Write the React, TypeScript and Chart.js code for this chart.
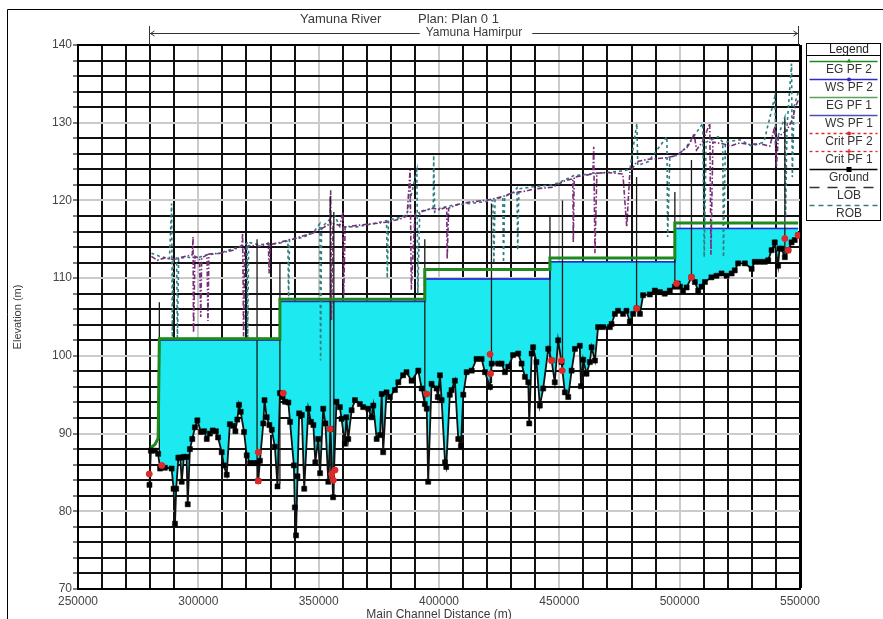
import React, { useEffect, useRef } from 'react';
import { Chart, registerables } from 'chart.js';

Chart.register(...registerables);

const W = 883;
const H = 619;
const FONT = '"Liberation Sans", Arial, sans-serif';

// ---- texts ----
const titleRiver = 'Yamuna River';
const titlePlan = 'Plan: Plan 0 1';
const reachName = 'Yamuna Hamirpur';
const xTitle = 'Main Channel Distance (m)';
const yTitle = 'Elevation (m)';
const legendTitle = 'Legend';
const seriesNames = ['EG PF 2', 'WS PF 2', 'EG PF 1', 'WS PF 1', 'Crit PF 2', 'Crit PF 1', 'Ground', 'LOB', 'ROB'];

// ---- axes ----
const xMin = 250000, xMax = 550000, xStep = 10000, xLabelEvery = 50000;
const yMin = 70, yMax = 140, yStep = 2, yLabelEvery = 10;

// ---- ground (min channel elevation) ----
const groundStation = [
  279700, 280300, 282000, 283300, 284100, 286100, 288900, 289700, 290300, 290800,
  291700, 292500, 293100, 294000, 295100, 295600, 296500, 297500, 298600, 299600,
  301100, 302400, 303500, 304800, 306000, 307300, 308200, 309700, 310600, 311800,
  313100, 314500, 315400, 316200, 316900, 317600, 319000, 320100, 321500, 323000,
  324600, 324900, 325600, 327000, 327500, 328400, 329500, 330500, 331800, 332900,
  333900, 335000, 336000, 337400, 338100, 339700, 340100, 340600, 341200, 341900,
  343000, 344000, 345700, 346800, 347800, 348600, 349800, 350600, 351900, 352800,
  354000, 354900, 356000, 357400, 358800, 359500, 360900, 361500, 362300, 363700,
  365100, 367100, 368500, 370600, 372000, 372700, 374100, 375500, 376200, 376800,
  378200, 379600, 381700, 383100, 385100, 386500, 388600, 391400, 392800, 394100,
  394900, 395500, 396900, 399000, 399500, 400400, 401100, 402500, 403000, 404500,
  405200, 406600, 408000, 409100, 410100, 411500, 413600, 415600, 417700, 419100,
  421200, 421900, 424600, 426000, 427400, 428800, 430800, 432900, 434300, 435700,
  437100, 437500, 438500, 439100, 440500, 441900, 443300, 445400, 446800, 448100,
  449500, 450900, 452300, 453700, 455100, 456500, 458500, 459000, 459900, 461300,
  462700, 463400, 464800, 466100, 468200, 471000, 471700, 473100, 474400, 476500,
  477900, 479300, 480700, 482100, 483500, 484800, 487600, 489700, 491800, 493800,
  495900, 498000, 499200, 500100, 501400, 502900, 504900, 506300, 507700, 509100,
  510500, 513200, 515300, 517400, 519500, 521600, 522900, 524300, 527100, 529900,
  531200, 533300, 535400, 536800, 538200, 539500, 540900, 541500, 542300, 543700,
  545100, 546500, 547800, 549200,
];
const groundElev = [
  83.4, 87.8, 87.8, 87.4, 85.5, 85.6, 85.5, 82.9, 78.4, 82.9,
  86.9, 86.9, 83.8, 87.0, 87.0, 80.9, 88.0, 89.3, 90.8, 91.7,
  90.2, 90.3, 89.3, 90.0, 90.4, 90.3, 89.5, 87.6, 85.9, 84.7,
  91.2, 91.0, 90.3, 91.8, 93.7, 92.8, 90.2, 87.2, 86.2, 86.2,
  86.2, 83.9, 86.5, 91.3, 94.3, 92.1, 91.1, 90.5, 88.3, 83.2,
  95.2, 94.7, 94.1, 94.0, 91.5, 85.9, 80.5, 76.9, 84.5, 92.6,
  92.4, 82.9, 93.2, 91.5, 91.1, 86.3, 89.3, 84.9, 93.2, 91.3,
  83.8, 90.6, 81.8, 94.1, 93.4, 91.9, 88.7, 92.1, 89.3, 93.0,
  94.3, 93.8, 93.4, 93.2, 92.1, 93.6, 89.3, 89.8, 95.1, 87.6,
  95.3, 94.7, 95.6, 96.6, 97.5, 97.9, 96.8, 98.1, 95.8, 93.8,
  93.2, 83.8, 96.4, 95.8, 94.7, 97.5, 94.3, 86.3, 85.7, 95.0,
  95.6, 96.8, 89.3, 88.4, 95.0, 97.9, 98.1, 99.6, 99.6, 97.9,
  96.0, 99.0, 99.0, 99.0, 97.9, 98.6, 100.1, 100.3, 99.0, 97.3,
  96.6, 91.3, 100.3, 101.1, 99.2, 93.6, 95.8, 100.9, 99.4, 96.6,
  102.0, 99.2, 95.3, 94.7, 98.1, 100.9, 101.3, 96.1, 99.5, 97.7,
  99.2, 101.1, 99.4, 103.7, 103.7, 103.7, 104.1, 105.4, 105.8, 105.4,
  105.8, 104.4, 105.4, 106.1, 105.4, 107.8, 107.9, 108.4, 108.2, 108.0,
  108.4, 108.9, 109.3, 108.9, 108.4, 108.8, 110.1, 109.5, 108.4, 108.9,
  109.5, 110.1, 110.3, 110.6, 110.3, 110.6, 111.0, 111.9, 111.9, 111.2,
  112.1, 112.1, 112.1, 112.3, 113.6, 114.6, 111.6, 113.8, 113.8, 112.7,
  113.6, 114.6, 114.9, 115.5,
];

// ---- pools (water surface / energy grade) ----
const poolStart = [283800, 333900, 394100, 446100, 498000];
const poolEnd = [333900, 394100, 446100, 498000, 549200];
const wsLevel = [102.0, 107.0, 109.9, 112.1, 116.4];
const egLevel = [102.2, 107.3, 111.1, 112.6, 117.1];
const egApproachStation = [280300, 282000, 283300];
const egApproachElev = [88.2, 88.6, 89.4];

// ---- critical depth points ----
const critStation = [279600, 284800, 324900, 324900, 335300, 354700, 355400, 356100, 356800, 394900, 421200, 421400, 446800, 450900, 451200, 482100, 498700, 504900, 543700, 545100, 549200];
const critElev = [84.8, 85.9, 87.6, 83.9, 95.2, 90.6, 84.8, 84.0, 85.3, 95.1, 100.2, 97.7, 99.4, 99.4, 98.1, 106.1, 109.3, 110.1, 115.1, 113.6, 115.5];

// ---- bank stations ----
const lobStation = [280500, 283000, 286000, 290000, 293000, 297500, 297800, 298000, 298600, 300500, 301000, 301400, 303600, 304000, 304400, 309000, 314400, 318100, 318400, 318800, 319300, 322000, 325600, 329100, 329400, 329800, 333900, 337200, 339300, 343000, 347600, 351400, 354700, 355000, 355300, 356000, 358800, 360100, 360400, 361000, 366000, 372500, 378200, 383800, 386700, 388000, 388500, 390000, 393300, 397600, 400400, 403200, 403400, 404000, 408000, 412800, 416000, 421100, 426500, 430700, 436000, 440000, 447300, 452000, 455600, 455800, 456200, 460000, 463900, 464300, 464800, 465600, 470000, 476400, 478000, 479300, 482200, 487000, 494700, 498800, 503000, 505000, 506000, 507000, 509600, 512500, 513000, 513800, 517900, 521000, 525000, 529000, 533000, 537500, 539500, 540200, 541000, 544500, 547000, 548000, 549500];
const lobElev = [112.8, 112.3, 112.6, 112.4, 112.7, 113.0, 115.3, 103.0, 112.8, 112.5, 105.0, 112.6, 113.0, 104.5, 113.1, 113.2, 113.6, 114.2, 115.8, 102.5, 114.0, 114.2, 114.1, 114.5, 110.6, 114.3, 114.6, 114.9, 115.0, 115.4, 115.8, 116.4, 117.0, 121.3, 104.6, 117.0, 116.8, 118.5, 107.6, 116.6, 116.8, 117.0, 117.2, 117.6, 118.0, 123.9, 108.5, 118.2, 118.6, 119.0, 118.8, 119.2, 112.5, 119.0, 119.5, 119.8, 119.9, 120.1, 120.5, 121.0, 121.2, 121.5, 121.7, 122.5, 122.8, 114.6, 123.0, 123.2, 123.4, 126.9, 113.2, 123.5, 123.6, 123.4, 116.6, 123.6, 125.0, 125.3, 125.5, 125.8, 126.8, 127.8, 128.6, 126.5, 127.6, 129.9, 113.0, 127.5, 127.3, 127.0, 127.4, 127.2, 127.3, 127.0, 129.5, 124.3, 128.2, 129.0, 130.5, 132.0, 133.0];
const robStation = [280500, 284000, 288000, 288900, 289200, 289600, 291000, 291300, 291800, 295000, 299400, 303600, 309000, 314400, 317300, 320200, 320500, 320900, 325600, 333900, 337200, 337500, 337900, 343000, 347600, 350500, 350800, 351200, 354000, 356800, 358800, 366000, 372500, 378200, 378500, 379000, 383800, 386700, 390800, 391200, 392000, 397600, 397800, 398200, 400400, 406000, 412800, 418000, 422400, 422800, 423300, 426500, 426800, 427300, 430700, 432400, 432700, 433200, 440000, 447300, 452000, 456000, 463000, 470000, 476400, 479300, 482200, 482600, 487000, 494700, 495000, 495900, 500000, 503000, 509600, 510200, 511000, 516000, 517900, 518200, 519000, 525000, 530000, 535000, 539500, 540000, 543700, 544000, 544600, 546500, 546800, 547500, 549300];
const robElev = [113.2, 112.8, 112.5, 119.6, 102.4, 112.4, 112.6, 102.0, 112.5, 112.7, 112.6, 113.0, 113.2, 113.8, 114.0, 114.5, 102.0, 114.6, 114.3, 114.5, 114.8, 107.2, 115.0, 115.2, 115.8, 117.0, 99.4, 116.5, 117.4, 118.0, 116.6, 116.6, 117.0, 117.4, 110.0, 117.5, 117.8, 118.2, 123.9, 108.0, 118.6, 119.0, 125.8, 118.5, 119.0, 119.4, 119.6, 119.8, 120.0, 111.9, 120.2, 120.4, 112.0, 120.5, 121.0, 121.6, 113.6, 121.5, 121.8, 122.0, 122.6, 123.2, 123.4, 123.6, 123.8, 124.0, 129.9, 124.5, 125.0, 128.2, 115.3, 125.5, 126.0, 127.0, 129.9, 112.7, 127.5, 128.2, 127.5, 112.7, 127.5, 127.8, 127.0, 127.5, 133.3, 127.5, 130.7, 117.9, 129.5, 137.6, 123.0, 132.0, 134.0];

// ---- structure lines ----
const structStation = [283800, 324400, 333900, 354800, 356300, 394100, 421800, 446100, 451300, 482100, 498000, 504900, 543700];
const structBottom = [87.4, 84.0, 83.5, 83.8, 81.8, 93.5, 96.5, 99.4, 98.0, 106.1, 108.9, 110.1, 112.7];
const structTop = [106.9, 115.0, 111.9, 120.5, 118.5, 115.0, 119.6, 117.9, 120.0, 123.0, 121.1, 125.2, 130.5];

// ---- colours ----
const C = {
  eg: '#1F8A1F',
  eg1: '#5E9E5E',
  ws: '#2A2AD0',
  ws1: '#5050A8',
  crit: '#E02828',
  ground: '#111111',
  lob: '#7A2E7A',
  rob: '#2F7F80',
  fill: '#1DE9F0',
  gridMinor: '#111111',
  gridMajor: '#CBCBCB',
  text: '#3A3A3A',
};

const zip = (xs: number[], ys: (number | null)[]) => xs.map((x, i) => ({ x, y: ys[i] }));

function poolLine(levels: number[]) {
  const pts: { x: number; y: number }[] = [];
  poolStart.forEach((s, i) => {
    pts.push({ x: s, y: levels[i] });
    pts.push({ x: poolEnd[i], y: levels[i] });
  });
  return pts;
}

function structurePoints() {
  const pts: { x: number; y: number | null }[] = [];
  structStation.forEach((s, i) => {
    pts.push({ x: s, y: structBottom[i] });
    pts.push({ x: s, y: structTop[i] });
    pts.push({ x: s, y: null });
  });
  return pts;
}

const legendItems = [
  { color: C.eg, dash: [] as number[], marker: 'triangle' },
  { color: C.ws, dash: [], marker: 'circle' },
  { color: C.eg1, dash: [], marker: '' },
  { color: C.ws1, dash: [], marker: '' },
  { color: C.crit, dash: [3, 3], marker: 'circle' },
  { color: C.crit, dash: [3, 3], marker: 'plus' },
  { color: '#000', dash: [], marker: 'square' },
  { color: '#333', dash: [10, 8], marker: '' },
  { color: C.rob, dash: [5, 4], marker: '' },
];

const decorPlugin = {
  id: 'decor',
  afterDraw(chart: any) {
    const ctx: CanvasRenderingContext2D = chart.ctx;
    const xs = chart.scales.x;
    const area = chart.chartArea;
    ctx.save();

    // outer frame (top & left)
    ctx.strokeStyle = '#000';
    ctx.lineWidth = 1;
    ctx.setLineDash([]);
    ctx.beginPath();
    ctx.moveTo(7.5, H);
    ctx.lineTo(7.5, 9.5);
    ctx.lineTo(W, 9.5);
    ctx.stroke();

    // title
    ctx.fillStyle = C.text;
    ctx.textBaseline = 'middle';
    ctx.textAlign = 'left';
    ctx.font = `13px ${FONT}`;
    ctx.fillText(titleRiver, 300, 19);
    ctx.fillText(titlePlan, 418, 19);

    // reach annotation
    const rx0 = Math.round(xs.getPixelForValue(groundStation[0])) + 0.5;
    const rx1 = Math.round(xs.getPixelForValue(groundStation[groundStation.length - 1])) + 0.5;
    const ry = 33.5;
    ctx.font = `12px ${FONT}`;
    const tw = ctx.measureText(reachName).width;
    const cx = (rx0 + rx1) / 2;
    ctx.textAlign = 'center';
    ctx.fillText(reachName, cx, 33);
    ctx.strokeStyle = '#333';
    ctx.lineWidth = 1;
    ctx.beginPath();
    ctx.moveTo(rx0, 26);
    ctx.lineTo(rx0, area.top);
    ctx.moveTo(rx1, 26);
    ctx.lineTo(rx1, area.top);
    ctx.moveTo(rx0, ry);
    ctx.lineTo(cx - tw / 2 - 6, ry);
    ctx.moveTo(cx + tw / 2 + 10, ry);
    ctx.lineTo(rx1, ry);
    ctx.moveTo(rx0 + 5, ry - 2.5);
    ctx.lineTo(rx0 + 1, ry);
    ctx.lineTo(rx0 + 5, ry + 2.5);
    ctx.moveTo(rx1 - 5, ry - 2.5);
    ctx.lineTo(rx1 - 1, ry);
    ctx.lineTo(rx1 - 5, ry + 2.5);
    ctx.stroke();

    // axis titles
    ctx.fillStyle = C.text;
    ctx.font = `12px ${FONT}`;
    ctx.textAlign = 'center';
    ctx.fillText(xTitle, (area.left + area.right) / 2, 615);
    ctx.save();
    ctx.translate(18, (area.top + area.bottom) / 2);
    ctx.rotate(-Math.PI / 2);
    ctx.font = `11px ${FONT}`;
    ctx.fillText(yTitle, 0, 0);
    ctx.restore();

    // legend box
    const lx0 = 806.5, lx1 = 880.5, ly0 = 43.5, ly1 = 220.5;
    const lcx = 849;
    ctx.fillStyle = '#fff';
    ctx.fillRect(lx0, ly0, lx1 - lx0, ly1 - ly0);
    ctx.strokeStyle = '#000';
    ctx.lineWidth = 1;
    ctx.strokeRect(lx0, ly0, lx1 - lx0, ly1 - ly0);
    ctx.beginPath();
    ctx.moveTo(lx0, 55.5);
    ctx.lineTo(lx1, 55.5);
    ctx.stroke();
    ctx.fillStyle = '#222';
    ctx.font = `12px ${FONT}`;
    ctx.fillText(legendTitle, lcx, 49.5);

    legendItems.forEach((it, i) => {
      const sy = Math.round(61 + i * 18.05) + 0.5;
      ctx.strokeStyle = it.color;
      ctx.fillStyle = it.color;
      ctx.lineWidth = 1.3;
      ctx.setLineDash(it.dash);
      ctx.beginPath();
      ctx.moveTo(lx0 + 3, sy);
      ctx.lineTo(lx1 - 3, sy);
      ctx.stroke();
      ctx.setLineDash([]);
      if (it.marker === 'triangle') {
        ctx.beginPath();
        ctx.moveTo(lcx, sy - 3);
        ctx.lineTo(lcx - 2.5, sy + 1);
        ctx.lineTo(lcx + 2.5, sy + 1);
        ctx.closePath();
        ctx.fill();
      } else if (it.marker === 'circle') {
        ctx.beginPath();
        ctx.arc(lcx, sy, 2, 0, Math.PI * 2);
        ctx.fill();
      } else if (it.marker === 'square') {
        ctx.fillRect(lcx - 2.5, sy - 2.5, 5, 5);
      } else if (it.marker === 'plus') {
        ctx.beginPath();
        ctx.moveTo(lcx - 2.5, sy);
        ctx.lineTo(lcx + 2.5, sy);
        ctx.moveTo(lcx, sy - 2.5);
        ctx.lineTo(lcx, sy + 2.5);
        ctx.stroke();
      }
      ctx.fillStyle = '#333';
      ctx.font = `12px ${FONT}`;
      ctx.textAlign = 'center';
      ctx.fillText(seriesNames[i], lcx, sy + 8.5);
    });

    ctx.restore();
  },
};

export default function App() {
  const canvasRef = useRef<HTMLCanvasElement | null>(null);

  useEffect(() => {
    const canvas = canvasRef.current;
    if (!canvas) return;
    Chart.defaults.font.family = FONT;

    const groundPts = zip(groundStation, groundElev);
    const wsPts = poolLine(wsLevel);
    const egPts = [...zip(egApproachStation, egApproachElev), ...poolLine(egLevel)];
    const critPts = zip(critStation, critElev);

    const xGridColor = (c: any) => {
      const v = c.tick ? c.tick.value : 0;
      if (v === xMin || v === xMax) return '#000';
      return v % xLabelEvery === 0 ? C.gridMajor : C.gridMinor;
    };
    const xGridWidth = (c: any) => {
      const v = c.tick ? c.tick.value : 0;
      return v === xMax ? 3 : 2;
    };
    const yGridColor = (c: any) => {
      const v = c.tick ? c.tick.value : 0;
      if (v === yMin || v === yMax) return '#000';
      return v % yLabelEvery === 0 ? C.gridMajor : C.gridMinor;
    };

    const chart = new Chart(canvas, {
      type: 'line',
      data: {
        datasets: [
          {
            label: seriesNames[6],
            data: groundPts,
            borderColor: C.ground,
            borderWidth: 1.8,
            pointStyle: 'rect',
            pointRadius: 3.6,
            pointBackgroundColor: '#000',
            pointBorderColor: '#000',
            pointBorderWidth: 0.5,
            fill: false,
            order: 2,
          },
          {
            label: seriesNames[1],
            data: wsPts,
            borderColor: C.ws,
            borderWidth: 1.5,
            pointRadius: 0,
            backgroundColor: C.fill,
            fill: '-1',
            order: 20,
          },
          {
            label: seriesNames[3],
            data: wsPts,
            borderColor: C.ws,
            borderWidth: 1,
            pointRadius: 0,
            fill: false,
            order: 19,
          },
          {
            label: seriesNames[0],
            data: egPts,
            borderColor: C.eg,
            borderWidth: 3,
            pointRadius: 0,
            fill: false,
            order: 6,
          },
          {
            label: seriesNames[2],
            data: egPts,
            borderColor: C.eg,
            borderWidth: 2,
            pointRadius: 0,
            fill: false,
            order: 5,
          },
          {
            label: seriesNames[4],
            data: critPts,
            showLine: false,
            pointStyle: 'circle',
            pointRadius: 3,
            pointBackgroundColor: C.crit,
            pointBorderColor: C.crit,
            borderColor: C.crit,
            fill: false,
            order: 1,
          },
          {
            label: seriesNames[5],
            data: critPts,
            showLine: false,
            pointStyle: 'cross',
            pointRadius: 2.5,
            pointBorderColor: C.crit,
            pointBorderWidth: 1,
            borderColor: C.crit,
            fill: false,
            order: 1,
          },
          {
            label: seriesNames[7],
            data: zip(lobStation, lobElev),
            borderColor: C.lob,
            borderWidth: 1.6,
            borderDash: [5, 2, 1.5, 2],
            pointRadius: 0,
            fill: false,
            order: 10,
          },
          {
            label: seriesNames[8],
            data: zip(robStation, robElev),
            borderColor: C.rob,
            borderWidth: 1.6,
            borderDash: [3, 3],
            pointRadius: 0,
            fill: false,
            order: 11,
          },
          {
            label: 'Structures',
            data: structurePoints(),
            borderColor: '#1a1a1a',
            borderWidth: 1.3,
            pointRadius: 0,
            spanGaps: false,
            fill: false,
            order: 8,
          },
        ],
      },
      options: {
        animation: false,
        responsive: false,
        devicePixelRatio: 1,
        events: [],
        layout: { padding: { left: 0, right: 83, top: 45, bottom: 0 } },
        plugins: {
          legend: { display: false },
          tooltip: { enabled: false },
          title: { display: false },
        },
        scales: {
          x: {
            type: 'linear',
            min: xMin,
            max: xMax,
            afterFit: (s: any) => {
              s.height = 30;
            },
            border: { display: true, color: '#000', width: 2 },
            grid: { color: xGridColor, lineWidth: xGridWidth, drawTicks: false },
            ticks: {
              stepSize: xStep,
              autoSkip: false,
              maxRotation: 0,
              minRotation: 0,
              padding: 5,
              color: '#444',
              font: { size: 12, family: FONT },
              callback: (v: any) => (Number(v) % xLabelEvery === 0 ? String(v) : ''),
            },
          },
          y: {
            type: 'linear',
            min: yMin,
            max: yMax,
            afterFit: (s: any) => {
              s.width = 78;
            },
            border: { display: true, color: '#000', width: 2 },
            grid: { color: yGridColor, lineWidth: 2, tickLength: 5, tickColor: '#000', tickWidth: 1 },
            ticks: {
              stepSize: yStep,
              autoSkip: false,
              padding: 1,
              color: '#444',
              font: { size: 12, family: FONT },
              callback: (v: any) => (Number(v) % yLabelEvery === 0 ? String(v) : ''),
            },
          },
        },
      },
      plugins: [decorPlugin],
    } as any);

    return () => {
      chart.destroy();
    };
  }, []);

  return (
    <div style={{ position: 'absolute', left: 0, top: 0, width: W, height: H, background: '#fff' }}>
      <canvas ref={canvasRef} width={W} height={H} style={{ display: 'block' }} />
    </div>
  );
}
